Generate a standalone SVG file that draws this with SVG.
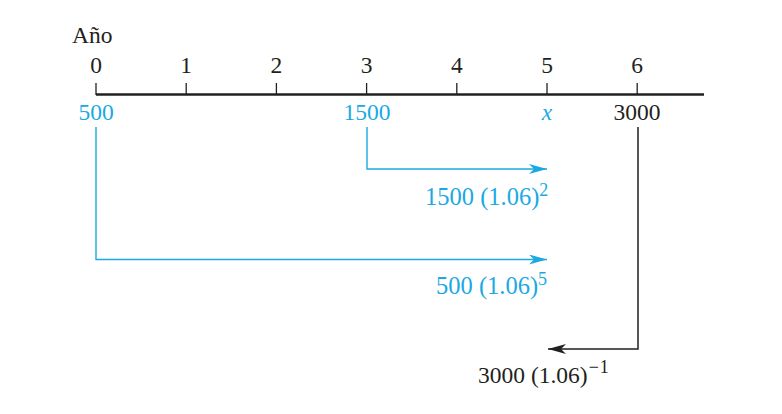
<svg xmlns="http://www.w3.org/2000/svg" width="782" height="414" viewBox="0 0 782 414">
<defs>
<style>
text{font-family:"Liberation Serif","Times New Roman",serif;font-size:23.5px}
.k{fill:#231f20}
.b{fill:#1aa9e3}
.lab{font-size:24.5px}
.sup{font-size:18px}
.bl{stroke:#1aa9e3;stroke-width:1.4;fill:none}
.kl{stroke:#231f20;stroke-width:1.5;fill:none}
</style>
<marker id="ab" viewBox="0 0 18 10" refX="18" refY="5" markerWidth="18" markerHeight="10" markerUnits="userSpaceOnUse" orient="auto">
<path d="M0,0 L18,5 L0,10 L5,5 Z" fill="#1aa9e3"/>
</marker>
<marker id="ak" viewBox="0 0 18 10" refX="18" refY="5" markerWidth="18" markerHeight="10" markerUnits="userSpaceOnUse" orient="auto">
<path d="M0,0 L18,5 L0,10 L5,5 Z" fill="#231f20"/>
</marker>
</defs>
<rect width="782" height="414" fill="#ffffff"/>
<g id="axis">
<line x1="96" y1="94.5" x2="704" y2="94.5" stroke="#231f20" stroke-width="2.4"/>
<g stroke="#231f20" stroke-width="1.3">
<line x1="96" y1="83" x2="96" y2="95"/>
<line x1="186.2" y1="83" x2="186.2" y2="95"/>
<line x1="276.4" y1="83" x2="276.4" y2="95"/>
<line x1="366.6" y1="83" x2="366.6" y2="95"/>
<line x1="456.8" y1="83" x2="456.8" y2="95"/>
<line x1="547" y1="83" x2="547" y2="95"/>
<line x1="637.2" y1="83" x2="637.2" y2="95"/>
</g>
<text class="k" x="72" y="43" font-size="27">Año</text>
<g class="k" text-anchor="middle">
<text x="96" y="73">0</text>
<text x="186.2" y="73">1</text>
<text x="276.4" y="73">2</text>
<text x="366.6" y="73">3</text>
<text x="456.8" y="73">4</text>
<text x="547" y="73">5</text>
<text x="637.2" y="73">6</text>
</g>
</g>
<g id="node-500"><text class="b" x="96" y="120" text-anchor="middle">500</text></g>
<g id="node-1500"><text class="b" x="367" y="120" text-anchor="middle">1500</text></g>
<g id="node-x"><text class="b" x="547" y="120" text-anchor="middle" font-style="italic">x</text></g>
<g id="node-3000"><text class="k" x="637" y="120" text-anchor="middle">3000</text></g>
<g id="connectors">
<polyline class="bl" points="367,127 367,169 547,169" marker-end="url(#ab)"/>
<polyline class="bl" points="96,127 96,259.5 547,259.5" marker-end="url(#ab)"/>
<polyline class="kl" points="638,127 638,349 548,349" marker-end="url(#ak)"/>
</g>
<g id="label-1500">
<text class="b lab" x="425" y="205">1500 (1.06)<tspan class="sup" dy="-9">2</tspan></text>
</g>
<g id="label-500">
<text class="b lab" x="436" y="294">500 (1.06)<tspan class="sup" dy="-9">5</tspan></text>
</g>
<g id="label-3000">
<text class="k" x="478" y="383" font-size="24">3000 (1.06)<tspan class="sup" dy="-10" dx="1" font-size="23">−</tspan><tspan class="sup" dx="1">1</tspan></text>
</g>
</svg>
